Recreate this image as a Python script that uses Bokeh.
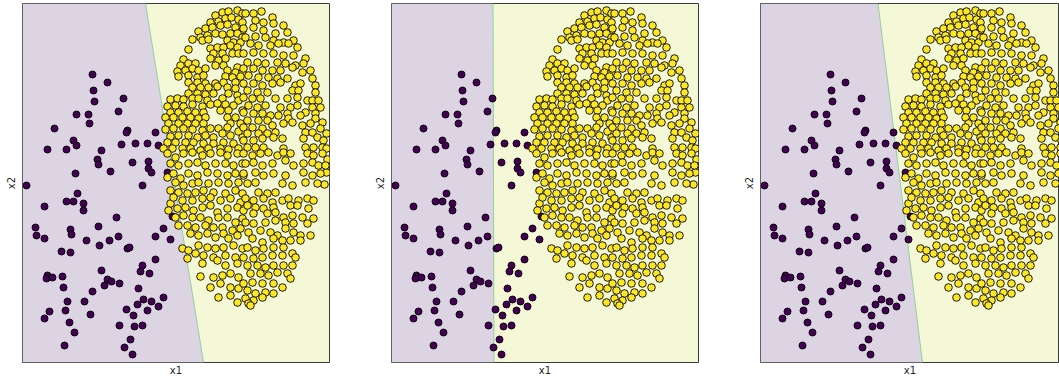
from bokeh.plotting import figure
from bokeh.layouts import row
from bokeh.models import Range1d, FixedTicker
from bokeh.embed import file_html
from bokeh.resources import INLINE

# ---------------- data (feature space x1, x2) ----------------
minority_points = [
    (70, 288), (85, 280), (71, 272), (72, 261), (101, 264), (96, 251), (54, 248), (66, 248),
    (67, 239), (32, 234), (105, 232), (104, 230), (133, 230), (51, 222), (54, 217), (25, 213),
    (44, 213), (79, 212), (99, 218), (113, 219), (125, 219), (136, 217), (75, 203), (76, 198),
    (110, 200), (126, 201), (126, 194), (129, 190), (53, 189), (88, 191), (145, 190), (4, 177),
    (120, 177), (55, 169), (44, 161), (51, 161), (61, 159), (61, 152), (22, 156), (94, 145),
    (13, 135), (14, 127), (22, 124), (48, 133), (49, 128), (76, 136), (64, 122), (77, 117),
    (87, 122), (96, 126), (105, 114), (107, 115), (133, 126), (141, 134), (148, 123), (150, 146),
    (39, 111), (48, 110), (133, 103), (120, 97), (118, 91), (127, 89), (79, 92), (25, 87),
    (24, 84), (30, 85), (40, 86), (41, 75), (85, 83), (89, 81), (82, 77), (97, 79),
    (70, 71), (116, 74), (45, 61), (43, 52), (62, 61), (27, 51), (22, 44), (68, 48),
    (47, 40), (52, 30), (42, 17), (121, 63), (129, 61), (115, 58), (136, 56), (141, 65),
    (104, 53), (111, 47), (125, 52), (97, 37), (112, 36), (120, 37), (108, 23), (102, 15),
    (110, 8),
]

majority_points = [
    (193, 347), (200, 350), (206, 351), (215, 352), (220, 349),
    (188, 340), (196, 341), (203, 344), (209, 345), (216, 343), (220, 340),
    (176, 331), (183, 334), (190, 335), (198, 337), (205, 338), (213, 335), (220, 332),
    (170, 323), (178, 325), (185, 327), (193, 329), (200, 328), (208, 329), (215, 329), (220, 325),
    (180, 322), (186, 323), (205, 322), (211, 320), (218, 320),
    (166, 313), (188, 314), (195, 315), (201, 315), (208, 317), (215, 315),
    (191, 309), (200, 309), (210, 309), (216, 309),
    (161, 303), (188, 304), (196, 302), (203, 304),
    (158, 297), (166, 299), (173, 299), (193, 297), (201, 297), (215, 295),
    (155, 291), (163, 292), (170, 294), (176, 292), (183, 294), (205, 292), (213, 290), (220, 290),
    (156, 286), (166, 287), (175, 285), (181, 287), (203, 286), (210, 285), (218, 286),
    (166, 280), (175, 280), (183, 279), (193, 279), (201, 280), (213, 280),
    (170, 275), (178, 275), (186, 275), (195, 276), (205, 275), (213, 274),
    (166, 269), (175, 269), (183, 268), (191, 269), (206, 269), (215, 267),
    (148, 263), (155, 264), (161, 263), (170, 264), (176, 264), (185, 262), (200, 264), (216, 262),
    (145, 256), (153, 257), (161, 256), (170, 258), (180, 256), (188, 258), (195, 259), (203, 258), (211, 257),
    (148, 250), (156, 250), (165, 251), (173, 250), (181, 250), (198, 252), (206, 252), (220, 252),
    (143, 245), (151, 245), (160, 245), (168, 245), (176, 244), (183, 245), (205, 245), (213, 245),
    (146, 239), (156, 239), (165, 239), (173, 239), (181, 239), (208, 239), (218, 239),
    (143, 233), (151, 234), (161, 234), (170, 233), (180, 232), (188, 234), (196, 234), (205, 235), (216, 231),
    (148, 226), (156, 227), (166, 227), (175, 225), (183, 227), (191, 225), (200, 229), (208, 227), (220, 225),
    (145, 220), (153, 220), (163, 220), (171, 220), (181, 219), (191, 219), (201, 220), (211, 219),
    (141, 214), (150, 214), (160, 214), (168, 214), (178, 212), (186, 214), (198, 214), (206, 213), (216, 214),
    (223, 349), (231, 349), (239, 351), (233, 342), (241, 340), (250, 345), (251, 339), (261, 337),
    (221, 334), (231, 335), (241, 332), (253, 329), (265, 330),
    (223, 325), (233, 326), (243, 325), (251, 322), (261, 320), (271, 322), (275, 315),
    (228, 319), (236, 317), (248, 317), (256, 319), (266, 319),
    (221, 309), (231, 310), (241, 309), (251, 309), (261, 307), (271, 307), (283, 304),
    (225, 300), (235, 300), (243, 299), (255, 300), (263, 299), (273, 297), (281, 299),
    (221, 294), (231, 294), (240, 292), (250, 292), (258, 292), (270, 295), (280, 290), (288, 292),
    (226, 287), (236, 285), (246, 285), (255, 284), (265, 284), (290, 284),
    (221, 279), (231, 279), (240, 277), (250, 279), (258, 280), (273, 277), (278, 279), (293, 277),
    (225, 272), (235, 270), (245, 270), (270, 272), (276, 272), (293, 270),
    (221, 265), (230, 264), (238, 264), (253, 264), (265, 264), (275, 265), (285, 262), (290, 262), (296, 262),
    (226, 257), (235, 255), (243, 257), (258, 255), (268, 255), (275, 257), (290, 255), (298, 255),
    (221, 250), (231, 249), (240, 249), (248, 247), (265, 249), (283, 250), (293, 249),
    (225, 242), (236, 242), (245, 242), (256, 247), (266, 244), (278, 247), (293, 244),
    (221, 235), (230, 235), (240, 234), (250, 237), (261, 239), (270, 240), (280, 237), (288, 239), (300, 240),
    (225, 229), (236, 229), (245, 229), (253, 230), (283, 230), (290, 230), (298, 234), (304, 229),
    (221, 222), (231, 222), (240, 224), (251, 225), (260, 224), (281, 224), (295, 225), (301, 222),
    (225, 215), (233, 215), (241, 215), (261, 214), (283, 215), (291, 215), (300, 215), (304, 214),
    (305, 203), (304, 190), (302, 178),
    (145, 209), (153, 205), (161, 209), (170, 210), (180, 207), (188, 209), (198, 210), (205, 207), (215, 209),
    (148, 199), (156, 197), (166, 199), (175, 200), (183, 197), (193, 199), (203, 199), (211, 197), (220, 199),
    (145, 185), (151, 189), (158, 184), (166, 189), (175, 187), (185, 190), (195, 189), (205, 187), (213, 189), (221, 187),
    (153, 180), (161, 177), (170, 179), (176, 180), (186, 179), (196, 180), (206, 179), (216, 180),
    (148, 172), (156, 170), (165, 169), (173, 170), (181, 172), (191, 170), (203, 169), (213, 172), (220, 169),
    (148, 159), (151, 165), (160, 162), (170, 162), (180, 164), (188, 165), (198, 162), (208, 164), (218, 160),
    (146, 152), (155, 154), (163, 155), (171, 152), (180, 155), (188, 157), (195, 150), (205, 154), (215, 155), (221, 152),
    (153, 145), (161, 147), (170, 145), (178, 145), (186, 142), (196, 145), (205, 145), (213, 140), (220, 144),
    (156, 137), (165, 137), (173, 135), (183, 137), (191, 135), (200, 135), (210, 132), (218, 134),
    (168, 129), (176, 127), (185, 129), (193, 125), (201, 129), (206, 124), (215, 127),
    (160, 114), (166, 112), (176, 117), (185, 115), (193, 114), (201, 115), (211, 117), (220, 114),
    (165, 104), (173, 109), (181, 107), (191, 105), (203, 107), (213, 105),
    (180, 99), (195, 102), (203, 97), (215, 99),
    (178, 86), (191, 85), (200, 87), (208, 89), (216, 85),
    (188, 75), (198, 79), (208, 75), (216, 74),
    (196, 65), (208, 67), (215, 60),
    (221, 209), (230, 207), (238, 209), (246, 210), (255, 207), (261, 210), (268, 209), (285, 209), (291, 207), (300, 209),
    (223, 199), (231, 200), (240, 197), (250, 199), (263, 202), (271, 197), (281, 199), (290, 200), (296, 197), (303, 197),
    (221, 189), (233, 190), (241, 187), (251, 189), (263, 187), (281, 190), (290, 187), (298, 189),
    (225, 179), (233, 180), (260, 179), (270, 177), (283, 180), (295, 179),
    (236, 170), (245, 169), (253, 170),
    (223, 164), (231, 162), (241, 164), (250, 160), (260, 162), (266, 164), (276, 162), (285, 164), (291, 162),
    (225, 157), (233, 155), (241, 154), (251, 155), (268, 157), (275, 157), (286, 154),
    (231, 149), (245, 149), (253, 150), (261, 145), (270, 147), (280, 145), (291, 144),
    (223, 140), (231, 139), (243, 140), (253, 142), (263, 140), (271, 139), (285, 139),
    (226, 130), (238, 132), (248, 130), (255, 127), (263, 134), (271, 130), (278, 127), (288, 127),
    (230, 124), (240, 120), (251, 124), (260, 122), (268, 122), (278, 122),
    (225, 115), (233, 112), (241, 114), (251, 115), (261, 115), (270, 109), (273, 105),
    (221, 105), (231, 104), (240, 105), (250, 107), (260, 107),
    (225, 97), (235, 97), (243, 95), (251, 97), (261, 97), (270, 97),
    (228, 89), (238, 89), (246, 87), (255, 90), (265, 89), (268, 84),
    (221, 79), (230, 80), (240, 79), (251, 79), (260, 75),
    (225, 72), (233, 69), (243, 70), (251, 69),
    (223, 64), (231, 62), (240, 65), (226, 59),
    (228, 57),
]

# decision boundary of each model: x1 where it meets the top and the bottom edge
boundary_top_x1 = [123.0, 101.5, 117.5]
boundary_bottom_x1 = [181.0, 102.5, 162.0]

x1_limits = (0, 307)
x2_limits = (0, 359)
panel3_x1_end = 299  # third panel is cut off by the page edge

PURPLE = "#440154"
YELLOW = "#fde725"
PURPLE_BG = "#dcd3e3"
YELLOW_BG = "#f4f8d6"
EDGE_LINE = "#8fd1a0"

min_x1 = [p[0] for p in minority_points]
min_x2 = [p[1] for p in minority_points]
maj_x1 = [p[0] for p in majority_points]
maj_x2 = [p[1] for p in majority_points]


def make_panel(k, x_end, border_right):
    p = figure(
        frame_width=int(x_end - x1_limits[0]),
        frame_height=int(x2_limits[1] - x2_limits[0]),
        x_range=Range1d(x1_limits[0], x_end),
        y_range=Range1d(*x2_limits),
        output_backend="svg",
        toolbar_location=None,
        min_border_left=20,
        min_border_right=border_right,
        min_border_top=0,
        min_border_bottom=16,
        background_fill_color=YELLOW_BG,
        border_fill_color="white",
        outline_line_color="#3a3a3a",
        outline_line_width=1,
        x_axis_label="x1",
        y_axis_label="x2",
    )
    p.grid.visible = False
    for ax in (p.xaxis[0], p.yaxis[0]):
        ax.ticker = FixedTicker(ticks=[])
        ax.axis_line_color = None
        ax.major_tick_line_color = None
        ax.minor_tick_line_color = None
        ax.major_tick_out = 0
        ax.major_tick_in = 0
        ax.major_label_standoff = 0
        ax.major_label_text_font_size = "0px"
        ax.axis_label_text_font = "DejaVu Sans"
        ax.axis_label_text_font_size = "10px"
        ax.axis_label_text_font_style = "normal"
        ax.axis_label_text_color = "#222222"
        ax.axis_label_standoff = 2
    p.yaxis[0].axis_label_standoff = 6

    top = boundary_top_x1[k]
    bot = boundary_bottom_x1[k]
    y0, y1 = x2_limits
    p.patch(x=[x1_limits[0], x1_limits[0], top, bot], y=[y0, y1, y1, y0],
            fill_color=PURPLE_BG, line_color=None)
    p.line(x=[top, bot], y=[y1, y0], line_color=EDGE_LINE, line_width=1)

    p.scatter(min_x1, min_x2, marker="circle", size=7, fill_color=PURPLE,
              line_color="black", line_width=0.9)
    p.scatter(maj_x1, maj_x2, marker="circle", size=7.6, fill_color=YELLOW,
              line_color="black", line_width=0.9)
    return p


p1 = make_panel(0, x1_limits[1], 42)
p2 = make_panel(1, x1_limits[1], 42)
p3 = make_panel(2, panel3_x1_end, 0)

layout = row(p1, p2, p3, margin=(3, 0, 0, 2))

open("out.html", "w").write(file_html(layout, INLINE))
